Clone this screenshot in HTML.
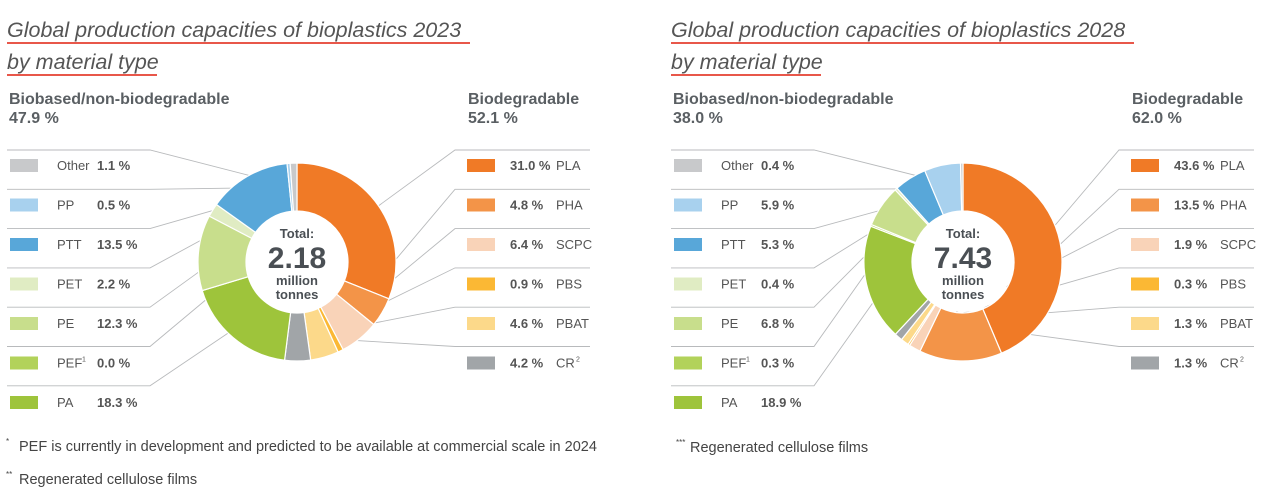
<!DOCTYPE html>
<html><head><meta charset="utf-8"><style>
body{margin:0;background:#fff;width:1269px;height:498px;overflow:hidden}
svg{display:block}
text{font-family:"Liberation Sans",Arial,sans-serif;fill:#4a4f54}
.t{font-style:italic;font-size:21.5px;fill:#555}
.h{font-weight:bold;font-size:16px;fill:#5a5f63}
.l{font-size:13px;fill:#555}
.b{font-weight:bold}
.f{font-size:14.5px;fill:#444}
</style></head><body>
<svg id="s" width="1269" height="498" xmlns="http://www.w3.org/2000/svg">
<g id="g0"></g><g id="g"></g>
</svg>
<script>
const NS="http://www.w3.org/2000/svg",g=document.getElementById('g'),g0=document.getElementById('g0');
function el(t,a,txt,par){const e=document.createElementNS(NS,t);for(const k in a)e.setAttribute(k,a[k]);if(txt!==undefined)e.textContent=txt;(par||g).appendChild(e);return e;}
const col={PLA:"#f07a26",PHA:"#f39448",SCPC:"#f9d3b8",PBS:"#fbb834",PBAT:"#fcd98a",CR:"#a1a5a8",PA:"#9ec43b",PEF:"#b2d25a",PE:"#c8de8c",PET:"#e0ecc3",PTT:"#58a7d9",PP:"#a8d1ee",Other:"#c8c9cb"};
const order=["PLA","PHA","SCPC","PBS","PBAT","CR","PA","PEF","PE","PET","PTT","PP","Other"];
const charts=[
{ox:0,cx:297,cy:262,year:"2023",bio:"47.9 %",deg:"52.1 %",tot:"2.18",
 v:{PLA:31.0,PHA:4.8,SCPC:6.4,PBS:0.9,PBAT:4.6,CR:4.2,PA:18.3,PEF:0.0,PE:12.3,PET:2.2,PTT:13.5,PP:0.5,Other:1.1},
 s:{PLA:"31.0",PHA:"4.8",SCPC:"6.4",PBS:"0.9",PBAT:"4.6",CR:"4.2",PA:"18.3",PEF:"0.0",PE:"12.3",PET:"2.2",PTT:"13.5",PP:"0.5",Other:"1.1"}},
{ox:664,cx:963,cy:262,year:"2028",bio:"38.0 %",deg:"62.0 %",tot:"7.43",
 v:{PLA:43.6,PHA:13.5,SCPC:1.9,PBS:0.3,PBAT:1.3,CR:1.3,PA:18.9,PEF:0.3,PE:6.8,PET:0.4,PTT:5.3,PP:5.9,Other:0.4},
 s:{PLA:"43.6",PHA:"13.5",SCPC:"1.9",PBS:"0.3",PBAT:"1.3",CR:"1.3",PA:"18.9",PEF:"0.3",PE:"6.8",PET:"0.4",PTT:"5.3",PP:"5.9",Other:"0.4"}}];
const leftRows=["Other","PP","PTT","PET","PE","PEF","PA"],rightRows=["PLA","PHA","SCPC","PBS","PBAT","CR"];
const R=99,r=51;
function pt(cx,cy,rad,a){return [cx+rad*Math.sin(a),cy-rad*Math.cos(a)];}
charts.forEach(c=>{
 const o=c.ox;
 el('text',{x:o+7,y:37,class:'t'},"Global production capacities of bioplastics "+c.year);
 el('rect',{x:o+7,y:42,width:463,height:2,fill:'#e8574a'});
 el('text',{x:o+7,y:69,class:'t'},"by material type");
 el('rect',{x:o+7,y:74,width:150,height:2,fill:'#e8574a'});
 el('text',{x:o+9,y:104,class:'h'},"Biobased/non-biodegradable");
 el('text',{x:o+9,y:123,class:'h'},c.bio);
 el('text',{x:o+468,y:104,class:'h'},"Biodegradable");
 el('text',{x:o+468,y:123,class:'h'},c.deg);
 let tot=0;order.forEach(k=>tot+=c.v[k]);
 let a=0;const mid={};
 order.forEach(k=>{
  const da=c.v[k]/tot*2*Math.PI;const a2=a+da;mid[k]=(a+a2)/2;
  if(da>0){
   const p1=pt(c.cx,c.cy,R,a),p2=pt(c.cx,c.cy,R,a2),p3=pt(c.cx,c.cy,r,a2),p4=pt(c.cx,c.cy,r,a);const lg=da>Math.PI?1:0;
   el('path',{d:`M${p1}A${R},${R} 0 ${lg} 1 ${p2}L${p3}A${r},${r} 0 ${lg} 0 ${p4}Z`,fill:col[k],stroke:'#fff','stroke-width':1.2});
  }
  a=a2;});
 const sty={stroke:'#b8babc','stroke-width':0.9,fill:'none'};
 leftRows.forEach((k,i)=>{const y=150+39.3*i;const m=pt(c.cx,c.cy,(R+r)/2,mid[k]);
  el('polyline',Object.assign({points:`${o+7},${y} ${o+150},${y} ${m}`},sty),undefined,g0);
  const ry=165+39.5*i;
  el('rect',{x:o+10,y:ry-6,width:28,height:13,fill:col[k]});
  el('text',{x:o+57,y:ry+5,class:'l'},k);
  if(k==="PEF")el('text',{x:o+82,y:ry-1,style:'font-size:7px;fill:#555'},"1");
  el('text',{x:o+97,y:ry+5,class:'l b'},c.s[k]+" %");
 });
 rightRows.forEach((k,i)=>{const y=150+39.3*i;const m=pt(c.cx,c.cy,(R+r)/2,mid[k]);
  el('polyline',Object.assign({points:`${o+590},${y} ${o+455},${y} ${m}`},sty),undefined,g0);
  const ry=165+39.5*i;
  el('rect',{x:o+467,y:ry-6,width:28,height:13,fill:col[k]});
  el('text',{x:o+510,y:ry+5,class:'l b'},c.s[k]+" %");
  el('text',{x:o+556,y:ry+5,class:'l'},k);
  if(k==="CR")el('text',{x:o+576,y:ry-1,style:'font-size:7px;fill:#555'},"2");
 });
 el('circle',{cx:c.cx,cy:c.cy,r:r-1,fill:'#fff'});
 el('text',{x:c.cx,y:238,'text-anchor':'middle',style:'font-weight:bold;font-size:13px;fill:#4a4f54'},"Total:");
 el('text',{x:c.cx,y:268,'text-anchor':'middle',style:'font-weight:bold;font-size:30px;fill:#4a4f54'},c.tot);
 el('text',{x:c.cx,y:285,'text-anchor':'middle',style:'font-weight:bold;font-size:13px;fill:#4a4f54'},"million");
 el('text',{x:c.cx,y:299,'text-anchor':'middle',style:'font-weight:bold;font-size:13px;fill:#4a4f54'},"tonnes");
});
el('text',{x:6,y:444,style:'font-size:8px;fill:#444'},"*");
el('text',{x:19,y:451,class:'f'},"PEF is currently in development and predicted to be available at commercial scale in 2024");
el('text',{x:6,y:477,style:'font-size:8px;fill:#444'},"**");
el('text',{x:19,y:484,class:'f'},"Regenerated cellulose films");
el('text',{x:676,y:445,style:'font-size:8px;fill:#444'},"***");
el('text',{x:690,y:452,class:'f'},"Regenerated cellulose films");
</script>
</body></html>
